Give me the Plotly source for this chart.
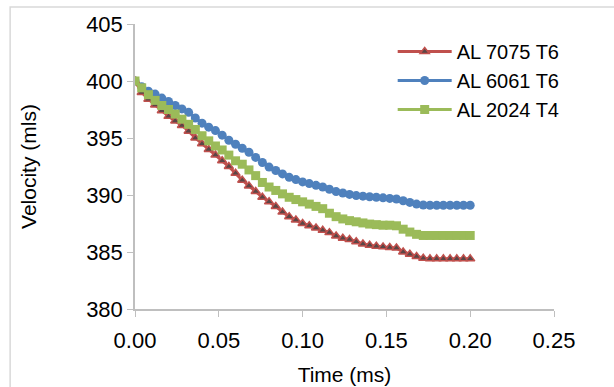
import plotly.graph_objects as go

# Time axis (ms): 51 samples, 0.004 ms apart
time_ms = [round(0.004 * i, 3) for i in range(51)]

al7075_t6 = [400.0, 399.0, 398.4, 397.9, 397.4, 396.9, 396.5, 396.1, 395.6, 395.0,
             394.5, 394.0, 393.5, 393.0, 392.5, 391.9, 391.3, 390.8, 390.3, 389.8,
             389.4, 389.0, 388.5, 388.1, 387.8, 387.5, 387.3, 387.1, 386.9, 386.7,
             386.4, 386.2, 386.1, 385.9, 385.7, 385.6, 385.5, 385.45, 385.4, 385.35,
             385.0, 384.8, 384.6, 384.45, 384.4, 384.4, 384.4, 384.4, 384.4, 384.4,
             384.4]

al6061_t6 = [400.0, 399.5, 399.1, 398.85, 398.5, 398.2, 397.85, 397.55, 397.25, 396.75,
             396.3, 395.95, 395.65, 395.25, 394.8, 394.45, 394.1, 393.75, 393.3, 392.85,
             392.45, 392.15, 391.85, 391.55, 391.35, 391.15, 391.0, 390.85, 390.7, 390.5,
             390.3, 390.18, 390.05, 389.95, 389.9, 389.85, 389.8, 389.75, 389.7, 389.65,
             389.5, 389.35, 389.2, 389.12, 389.1, 389.1, 389.1, 389.1, 389.1, 389.1,
             389.1]

al2024_t4 = [400.0, 399.4, 398.8, 398.3, 397.85, 397.5, 397.1, 396.65, 396.2, 395.75,
             395.2, 394.75, 394.3, 393.95, 393.5, 393.0, 392.7, 392.2, 391.7, 391.1,
             390.7, 390.4, 390.1, 389.8, 389.6, 389.4, 389.2, 389.0, 388.8, 388.4,
             388.1, 387.9, 387.75, 387.65, 387.55, 387.45, 387.4, 387.35, 387.35, 387.3,
             387.0, 386.75, 386.55, 386.45, 386.45, 386.45, 386.45, 386.45, 386.45, 386.45,
             386.45]

x_ticks = [0.00, 0.05, 0.10, 0.15, 0.20, 0.25]
y_ticks = [380, 385, 390, 395, 400, 405]

FONT = "Liberation Sans, Arial, sans-serif"
AXIS_GRAY = "#bfbfbf"

fig = go.Figure()

fig.add_trace(go.Scatter(
    x=time_ms, y=al6061_t6, name="AL 6061 T6", mode="lines+markers",
    line=dict(color="#4F81BD", width=3),
    marker=dict(symbol="circle", size=9, color="#4F81BD"),
    legendrank=2,
))
fig.add_trace(go.Scatter(
    x=time_ms, y=al7075_t6, name="AL 7075 T6", mode="lines+markers",
    line=dict(color="#C0504D", width=3),
    marker=dict(symbol="triangle-up", size=8, color="#5a4646",
                line=dict(color="#C0504D", width=1.5)),
    legendrank=1,
))
fig.add_trace(go.Scatter(
    x=time_ms, y=al2024_t4, name="AL 2024 T4", mode="lines+markers",
    line=dict(color="#9BBB59", width=3),
    marker=dict(symbol="square", size=9, color="#9BBB59"),
    legendrank=3,
))

fig.update_layout(
    width=614, height=387,
    margin=dict(l=135, r=60, t=24, b=78),
    paper_bgcolor="white", plot_bgcolor="white",
    font=dict(family=FONT, size=21, color="#000000"),
    showlegend=True,
    legend=dict(x=0.615, y=0.972, xanchor="left", yanchor="top",
                bgcolor="rgba(0,0,0,0)", font=dict(size=20),
                tracegroupgap=0, itemwidth=54),
    xaxis=dict(
        range=[0, 0.25], tickvals=x_ticks, ticktext=[f"{v:.2f}" for v in x_ticks],
        showgrid=False, zeroline=False, showline=True, linecolor=AXIS_GRAY, linewidth=1.5,
        ticks="outside", ticklen=6, tickcolor=AXIS_GRAY, tickfont=dict(size=22),
        ticklabelstandoff=5, automargin=False,
        title=dict(text="Time (ms)", font=dict(size=21), standoff=15),
    ),
    yaxis=dict(
        range=[380, 405], tickvals=y_ticks,
        showgrid=False, zeroline=False, showline=True, linecolor=AXIS_GRAY, linewidth=1.5,
        ticks="outside", ticklen=6, tickcolor=AXIS_GRAY, tickfont=dict(size=22),
        automargin=False,
        title=dict(text="Velocity (mls)", font=dict(size=21), standoff=44),
    ),
    shapes=[dict(type="rect", xref="paper", yref="paper",
                 x0=-0.298, x1=1.2, y0=-0.35, y1=1.06,
                 line=dict(color="#d9d9d9", width=1.5), fillcolor="rgba(0,0,0,0)",
                 layer="below")],
)

fig.write_html("out.html")
